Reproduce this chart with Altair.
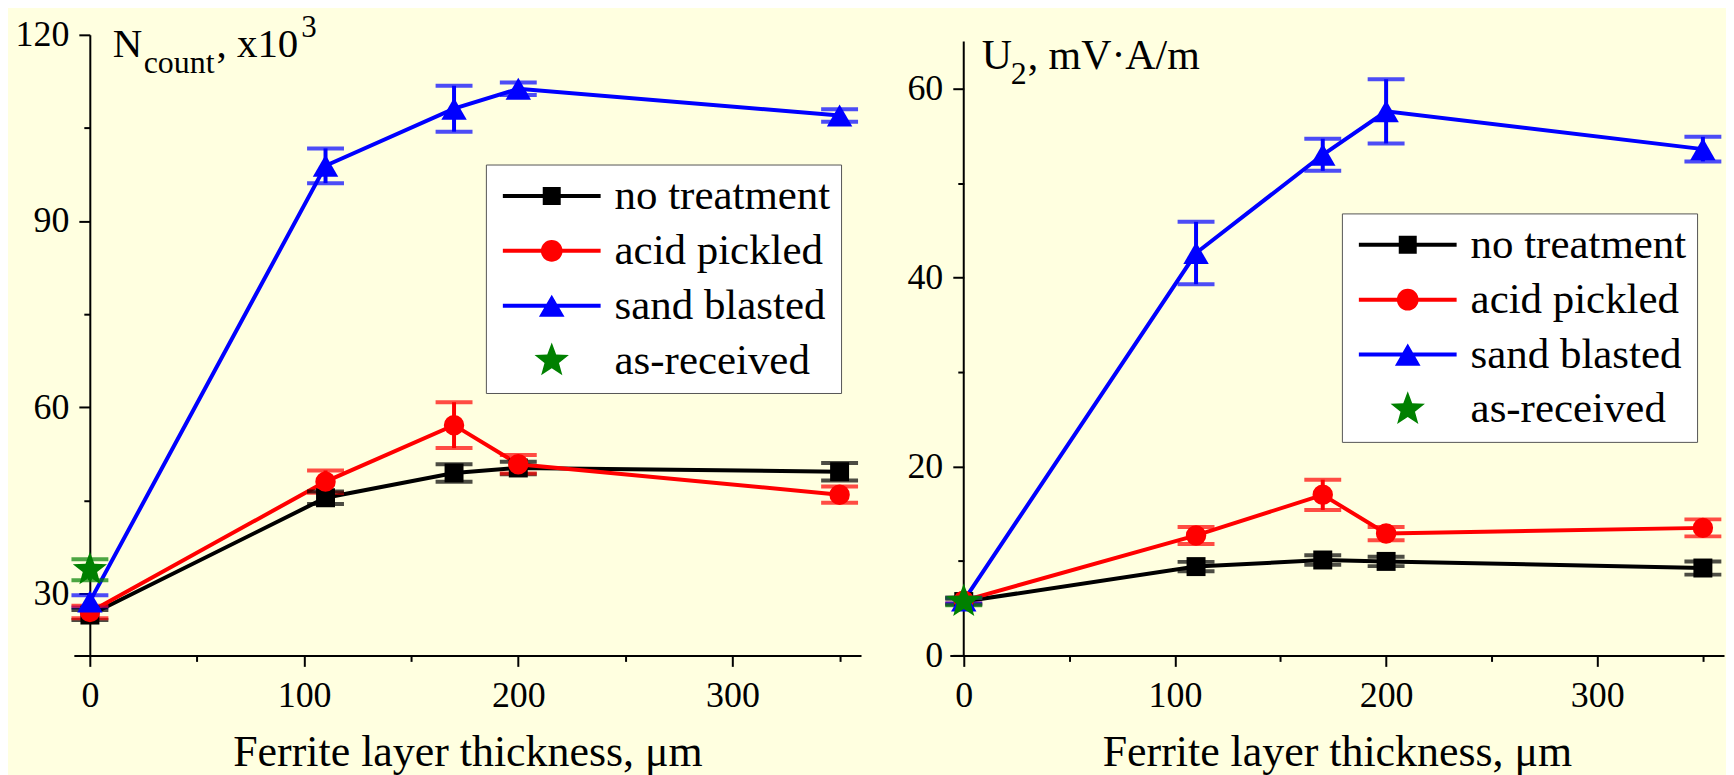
import math
import altair as alt
import pandas as pd

# ---------------- data ----------------
x_vals = [0, 110, 170, 200, 350]
series = ["no treatment", "acid pickled", "sand blasted", "as-received"]
colors = ["#000000", "#ff0000", "#0000ff", "#008000"]

# left panel: N_count, x10^3
n_none = [26.5, 45.4, 49.4, 50.2, 49.6]
n_none_err = [0.8, 1.0, 1.4, 1.0, 1.4]
n_acid = [27.0, 48.0, 57.1, 50.8, 45.9]
n_acid_err = [1.0, 1.8, 3.7, 1.5, 1.3]
n_sand = [28.7, 98.9, 108.1, 111.3, 107.0]
n_sand_err = [1.0, 2.8, 3.7, 1.0, 1.0]
n_recv = [33.8]
n_recv_err = [1.7]

# right panel: U2, mV*A/m
u_none = [5.7, 9.4, 10.1, 9.95, 9.25]
u_none_err = [0.3, 0.5, 0.5, 0.5, 0.7]
u_acid = [5.8, 12.7, 17.0, 12.9, 13.5]
u_acid_err = [0.3, 0.9, 1.6, 0.7, 0.9]
u_sand = [5.8, 42.6, 53.0, 57.6, 53.6]
u_sand_err = [0.3, 3.3, 1.7, 3.4, 1.3]
u_recv = [5.7]
u_recv_err = [0.4]

x_ticks = [0, 50, 100, 150, 200, 250, 300, 350]
left_y_ticks = [30, 45, 60, 75, 90, 105, 120]
right_y_ticks = [0, 10, 20, 30, 40, 50, 60]
right_y_axis_top = 65
x_title = "Ferrite layer thickness, μm"

FONT = "Liberation Serif"
BG = "#FFFFE0"


def build(vals_list, errs_list):
    rows = []
    for name, vals, errs in zip(series, vals_list, errs_list):
        for x, v, e in zip(x_vals, vals, errs):
            rows.append({"x": x, "y": v, "lo": v - e, "hi": v + e, "series": name})
    return pd.DataFrame(rows)


df_left = build([n_none, n_acid, n_sand, n_recv],
                [n_none_err, n_acid_err, n_sand_err, n_recv_err])
df_right = build([u_none, u_acid, u_sand, u_recv],
                 [u_none_err, u_acid_err, u_sand_err, u_recv_err])


# ---------------- shapes ----------------
def f(v):
    return f"{v:.4f}"


def star_path(R, ratio=0.42):
    pts = []
    for i in range(10):
        ang = math.radians(-90 + 36 * i)
        r = R if i % 2 == 0 else R * ratio
        pts.append((r * math.cos(ang), r * math.sin(ang)))
    return "M" + " L".join(f"{f(px)},{f(py)}" for px, py in pts) + " Z"


STAR = star_path(1.0)
LINE = "M-1,-0.041 H1 V0.041 H-1 Z "
sq = 0.184
LEG_SQUARE = LINE + f"M{-sq},{-sq} H{sq} V{sq} H{-sq} Z"
cr = 0.222
LEG_CIRCLE = LINE + f"M{-cr},0 A{cr},{cr} 0 1,1 {cr},0 A{cr},{cr} 0 1,1 {-cr},0 Z"
tw, th = 0.262, 0.226
LEG_TRI = LINE + f"M0,{-th} L{tw},{th} L{-tw},{th} Z"
LEG_STAR = star_path(0.37)
leg_shapes = [LEG_SQUARE, LEG_CIRCLE, LEG_TRI, LEG_STAR]
LEG_SIZE = 9604


def panel(df, xdom, ydom, yvals, ymod, yoff, W, H, leg_x, leg_y, texts, axis_top=None):
    xs = alt.Scale(domain=xdom, nice=False, zero=False)
    ys = alt.Scale(domain=ydom, nice=False, zero=False)
    common = dict(
        domainColor="black", domainWidth=2, tickColor="black", tickWidth=2,
        labelFont=FONT, labelFontSize=36, labelColor="black", grid=False,
        labelFlush=False, labelOverlap=False,
    )
    xaxis = alt.Axis(
        values=x_ticks,
        labelExpr="datum.value % 100 === 0 ? datum.label : ''",
        tickSize={"condition": {"test": "datum.value % 100 === 0", "value": 11}, "value": 6},
        labelPadding=12, title=x_title, titleFont=FONT, titleFontSize=44,
        titleFontWeight="normal", titleColor="black", titlePadding=17,
        **common,
    )
    yaxis = alt.Axis(
        values=yvals,
        labelExpr=f"datum.value % {ymod} === 0 ? datum.label : ''",
        tickSize={"condition": {"test": f"datum.value % {ymod} === 0", "value": 11}, "value": 6},
        labelPadding=10, title=None, offset=yoff, domain=axis_top is None,
        **common,
    )

    def X():
        return alt.X("x:Q", scale=xs, axis=xaxis)

    def Y(field):
        return alt.Y(f"{field}:Q", scale=ys, axis=yaxis)

    cscale = alt.Scale(domain=series, range=colors)
    sscale = alt.Scale(domain=series, range=leg_shapes)
    legend = alt.Legend(
        orient="none", legendX=leg_x, legendY=leg_y, title=None,
        padding=10, symbolOffset=7, labelOffset=14, rowPadding=11, clipHeight=43,
        labelFont=FONT, labelFontSize=43, labelColor="black", labelLimit=600,
        fillColor="white", strokeColor="#555555",
        symbolSize=LEG_SIZE, symbolStrokeWidth=0, symbolOpacity=1,
    )

    base = alt.Chart(df)

    # legend carrier (first layer so its legend definition wins): draws nothing
    carrier = base.transform_filter("false").mark_point(
        filled=True, opacity=1, size=LEG_SIZE, strokeWidth=0
    ).encode(
        x=X(), y=Y("y"),
        color=alt.Color("series:N", scale=cscale, legend=legend),
        shape=alt.Shape("series:N", scale=sscale, legend=legend),
    )

    extra = []
    if axis_top is not None:
        # vertical axis line that stops at the axis top value (as in the reference)
        extra.append(
            alt.Chart(alt.Data(values=[{"a": 1}])).mark_rule(
                color="black", strokeWidth=2
            ).encode(
                x=alt.X(datum=0, scale=xs, axis=xaxis),
                y=alt.Y(datum=ydom[0], scale=ys, axis=yaxis),
                y2=alt.Y2(datum=axis_top),
            )
        )

    lines = base.transform_filter(alt.datum.series != "as-received").mark_line(
        strokeWidth=4
    ).encode(x=X(), y=Y("y"), color=alt.Color("series:N", scale=cscale, legend=None))
    stems = base.mark_rule(strokeWidth=4).encode(
        x=X(), y=Y("lo"), y2="hi:Q",
        color=alt.Color("series:N", scale=cscale, legend=None))
    caps_lo = base.mark_tick(orient="horizontal", size=37, thickness=4).encode(
        x=X(), y=Y("lo"), color=alt.Color("series:N", scale=cscale, legend=None))
    caps_hi = base.mark_tick(orient="horizontal", size=37, thickness=4).encode(
        x=X(), y=Y("hi"), color=alt.Color("series:N", scale=cscale, legend=None))

    marker_specs = [("square", 361), ("circle", 420), ("triangle-up", 650), (STAR, 1296)]
    pts = []
    for name, col, (shp, sz) in zip(series, colors, marker_specs):
        pts.append(
            base.transform_filter(alt.datum.series == name).mark_point(
                shape=shp, size=sz, filled=True, opacity=1, color=col, strokeWidth=0
            ).encode(x=X(), y=Y("y"))
        )

    txt_layers = []
    for s, tx, ty, fs in texts:
        txt_layers.append(
            alt.Chart(alt.Data(values=[{"a": 1}])).mark_text(
                text=s, x=tx, y=ty, fontSize=fs, font=FONT, align="left",
                baseline="alphabetic", color="black"
            )
        )

    return alt.layer(carrier, *extra, lines, stems, caps_lo, caps_hi, *pts, *txt_layers).properties(
        width=W, height=H
    )


left = panel(
    df_left, [-7.5, 360], [20, 120], left_y_ticks, 30, -16, 789, 622, 413, 130,
    [("N", 39, 22, 41), ("count", 70, 38, 32), (", x10", 143, 22, 41), ("3", 228, 2, 31)],
)
right = panel(
    df_right, [-6.6, 360], [0, 65.7], right_y_ticks, 20, -14, 776, 622, 393, 179,
    [("U", 32, 34, 42), ("2", 61, 49, 32), (", mV·A/m", 78, 34, 42)],
    axis_top=right_y_axis_top,
)

chart = (
    alt.hconcat(left, right, spacing=46)
    .resolve_scale(color="independent", shape="independent")
    .resolve_legend(color="independent", shape="independent")
    .properties(background=BG, padding={"left": 7, "top": 3, "right": 2, "bottom": 0})
    .configure_view(strokeWidth=0)
    .configure_legend(labelFont=FONT, labelFontSize=43, labelColor="black", labelLimit=600)
)

chart.save("out.html", embed_options={"renderer": "svg", "actions": False})
